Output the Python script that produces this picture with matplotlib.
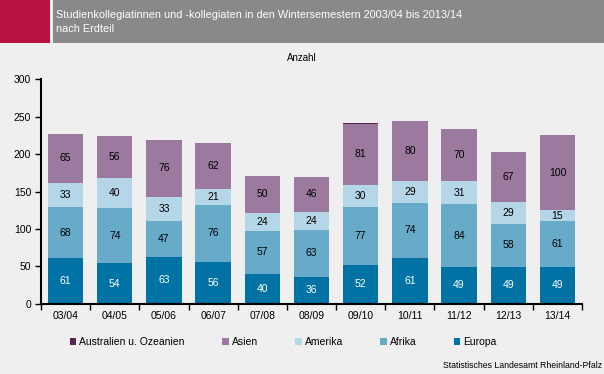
import matplotlib.pyplot as plt
from matplotlib.patches import Rectangle, Patch
import numpy as np

plt.rcParams['font.family'] = ['Liberation Sans', 'DejaVu Sans']

semester = ['03/04', '04/05', '05/06', '06/07', '07/08', '08/09',
            '09/10', '10/11', '11/12', '12/13', '13/14']
europa = [61, 54, 63, 56, 40, 36, 52, 61, 49, 49, 49]
afrika = [68, 74, 47, 76, 57, 63, 77, 74, 84, 58, 61]
amerika = [33, 40, 33, 21, 24, 24, 30, 29, 31, 29, 15]
asien = [65, 56, 76, 62, 50, 46, 81, 80, 70, 67, 100]
australien = [0, 0, 0, 0, 0, 0, 1, 0, 0, 0, 0]

reihen = [('Europa', europa, '#0072a3', 'white'),
          ('Afrika', afrika, '#67abc9', 'black'),
          ('Amerika', amerika, '#b4d6e6', 'black'),
          ('Asien', asien, '#9c7a9f', 'black'),
          ('Australien u. Ozeanien', australien, '#5a2352', 'black')]

bg = '#eeefee'
fig = plt.figure(figsize=(6.04, 3.74), dpi=100, facecolor=bg)
W, H = 604, 374

# Kopfzeile
fig.add_artist(Rectangle((0, 1 - 43 / H), 50 / W, 43 / H, transform=fig.transFigure,
                         facecolor='#b5123f', edgecolor='none'))
fig.add_artist(Rectangle((53 / W, 1 - 43 / H), 1 - 53 / W, 43 / H, transform=fig.transFigure,
                         facecolor='#88898b', edgecolor='none'))
fig.text(56 / W, 1 - 15 / H, 'Studienkollegiatinnen und -kollegiaten in den Wintersemestern 2003/04 bis 2013/14',
         color='white', fontsize=7.8, va='center', ha='left')
fig.text(56 / W, 1 - 29 / H, 'nach Erdteil', color='white', fontsize=7.8, va='center', ha='left')
fig.text(302 / W, 1 - 58 / H, 'Anzahl', fontsize=7, ha='center', va='center')

ax = fig.add_axes([41 / W, 1 - 303.7 / H, (582 - 41) / W, (303.7 - 79.3) / H])
ax.set_facecolor(bg)

x = np.arange(len(semester))
unten = np.zeros(len(semester))
handles = {}
for name, werte, farbe, tcol in reihen:
    werte = np.array(werte)
    bars = ax.bar(x, werte, 0.72, bottom=unten, color=farbe, edgecolor='none')
    handles[name] = Patch(facecolor=farbe)
    for xi, b, v in zip(x, unten, werte):
        if v >= 5:
            ax.text(xi, b + v / 2, str(v), ha='center', va='center', fontsize=7.5, color=tcol)
    unten = unten + werte

ax.set_xlim(-0.5, len(semester) - 0.5)
ax.set_ylim(0, 300)
ax.set_yticks(range(0, 301, 50))
ax.set_xticks(np.arange(-0.5, len(semester), 1))
ax.set_xticklabels([])
ax.set_xticks(x, minor=True)
ax.set_xticklabels(semester, minor=True)
ax.tick_params(axis='x', which='minor', length=0, labelsize=7.5, pad=5)
ax.tick_params(axis='x', which='major', length=4, width=1, direction='out')
ax.tick_params(axis='y', length=4, width=1, labelsize=7.5, pad=3)
for s in ['top', 'right']:
    ax.spines[s].set_visible(False)
for s in ['left', 'bottom']:
    ax.spines[s].set_linewidth(1.5)

reihenfolge = ['Australien u. Ozeanien', 'Asien', 'Amerika', 'Afrika', 'Europa']
fig.legend([handles[n] for n in reihenfolge], reihenfolge, ncol=5, frameon=False,
           loc='center left', bbox_to_anchor=(70 / W, 1 - 342 / H), fontsize=7.5,
           handlelength=0.6, handleheight=0.6, handletextpad=0.3, columnspacing=3.6,
           borderpad=0, borderaxespad=0)

fig.text(602 / W, 1 - 365 / H, 'Statistisches Landesamt Rheinland-Pfalz', fontsize=6.3,
         ha='right', va='center')

fig.savefig('out.png', dpi=100, facecolor=bg)
